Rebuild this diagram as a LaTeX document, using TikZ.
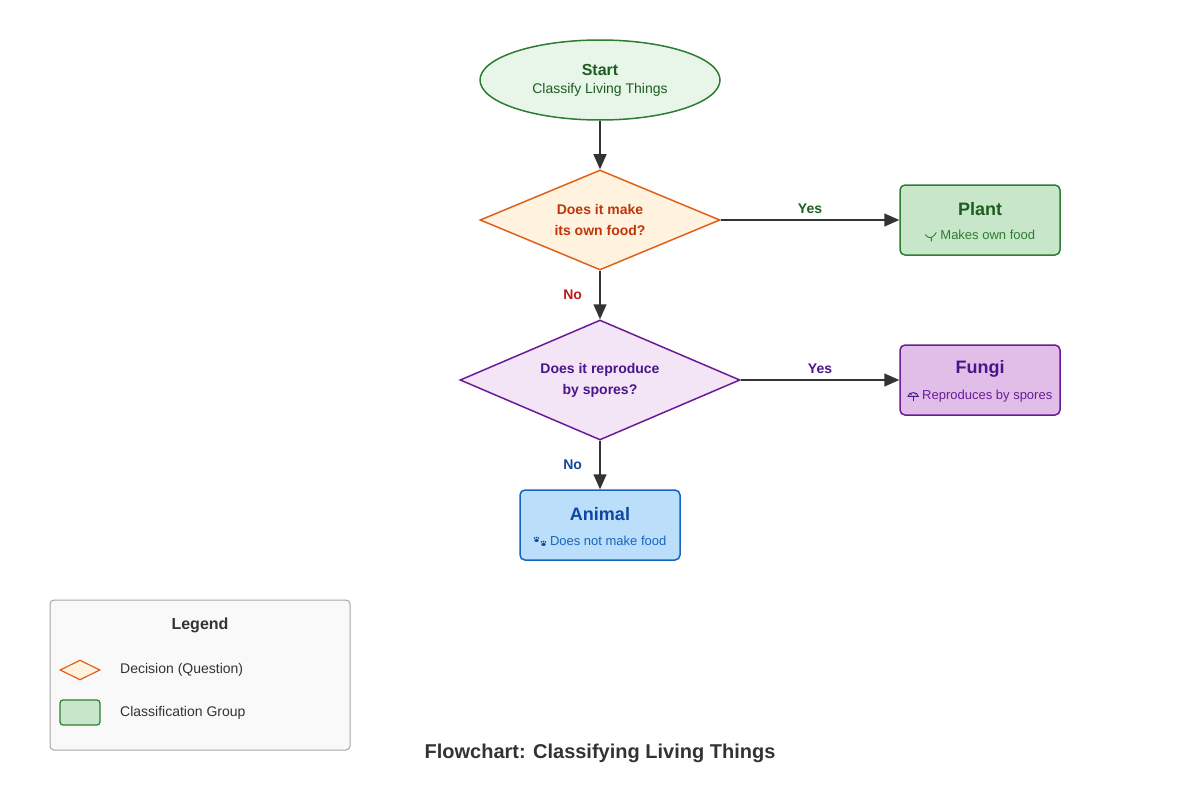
\documentclass[tikz,border=0pt]{standalone}
\usepackage{fontspec}
\setmainfont{Liberation Sans}
\usetikzlibrary{shapes.geometric,arrows.meta}
\definecolor{gS}{HTML}{2E7D32}\definecolor{gF}{HTML}{E8F5E9}\definecolor{gT}{HTML}{1B5E20}
\definecolor{gP}{HTML}{C8E6C9}
\definecolor{oS}{HTML}{E0601A}\definecolor{oF}{HTML}{FFF3E0}\definecolor{oT}{HTML}{BF360C}
\definecolor{pS}{HTML}{6A1B9A}\definecolor{pF}{HTML}{F3E5F5}\definecolor{pT}{HTML}{4A148C}\definecolor{pP}{HTML}{E1BEE7}
\definecolor{bS}{HTML}{1565C0}\definecolor{bF}{HTML}{BBDEFB}\definecolor{bT}{HTML}{0D47A1}
\definecolor{dk}{HTML}{333333}\definecolor{noR}{HTML}{B71C1C}
\newcommand{\icSprout}{\tikz[baseline=-3pt,x=1pt,y=1pt,line width=0.9pt,gS]{\draw (0,-5)--(0,-1) (-6,2) .. controls (-3,-2) and (-1,-1) .. (0,-1) .. controls (2,0) and (4,2) .. (5,4);}}
\newcommand{\icMush}{\tikz[baseline=-3pt,x=1pt,y=1pt,line width=0.9pt,pT]{\draw (-5,0) .. controls (-5,5) and (5,5) .. (5,0) -- cycle; \draw (0,0)--(0,-5); \fill (-2,2) circle (0.8) (2,2.5) circle (0.8);}}
\newcommand{\icPaw}{\tikz[baseline=-3pt,x=1pt,y=1pt,bT]{\fill (-4,2) ellipse (2.2 and 1.5) (-6,4.5) circle (0.9) (-4,5) circle (0.9) (-2,4.5) circle (0.9) (3,-2) ellipse (2.2 and 1.5) (1,0.5) circle (0.9) (3,1) circle (0.9) (5,0.5) circle (0.9);}}
\begin{document}
\begin{tikzpicture}[x=1pt,y=-1pt,
  dia/.style={diamond,draw,line width=1.5pt,inner sep=0pt,aspect=2.4,align=center,font=\bfseries\fontsize{14}{21}\selectfont},
  box/.style={rectangle,rounded corners=5pt,draw,line width=1.5pt,minimum width=160pt,minimum height=70pt,align=center},
  arr/.style={-{Triangle[length=15pt,width=13pt]},line width=1.5pt,draw=dk,fill=dk},
  lab/.style={font=\bfseries\fontsize{14}{16}\selectfont}]
\useasboundingbox (0,0) rectangle (1200,800);
\node[ellipse,draw=gS,fill=gF,line width=1.5pt,minimum width=240pt,minimum height=80pt] (start) at (600,80) {};
\node[font=\bfseries\fontsize{16}{18}\selectfont,text=gT] (startT) at (600,70) {Start};
\node[font=\fontsize{14}{16}\selectfont,text=gT] (startS) at (600,90) {Classify Living Things};
\node[dia,draw=oS,fill=oF,text=oT,minimum width=240pt,minimum height=100pt] (d1) at (600,220) {Does it make\\its own food?};
\node[dia,draw=pS,fill=pF,text=pT,minimum width=280pt,minimum height=120pt] (d2) at (600,380) {Does it reproduce\\by spores?};
\node[box,draw=gS,fill=gP] (plant) at (980,220) {};
\node[font=\bfseries\fontsize{18}{20}\selectfont,text=gT] (plantT) at (980,209) {Plant};
\node[font=\fontsize{13}{15}\selectfont,text=gS] (plantS) at (980,236) {\icSprout\ Makes own food};
\node[box,draw=pS,fill=pP] (fungi) at (980,380) {};
\node[font=\bfseries\fontsize{18}{20}\selectfont,text=pT] (fungiT) at (980,369) {Fungi};
\node[font=\fontsize{13}{15}\selectfont,text=pS] (fungiS) at (980,396) {\icMush\ Reproduces by spores};
\node[box,draw=bS,fill=bF] (animal) at (600,525) {};
\node[font=\bfseries\fontsize{18}{20}\selectfont,text=bT] (animalT) at (600,514) {Animal};
\node[font=\fontsize{13}{15}\selectfont,text=bS] (animalS) at (600,541) {\icPaw\ Does not make food};
\draw[arr] (start) -- (d1);
\draw[arr] (d1) -- node[lab,text=gT,above=2pt,pos=0.5]{Yes} (plant);
\draw[arr] (d1) -- node[lab,text=noR,left=14pt,pos=0.5]{No} (d2);
\draw[arr] (d2) -- node[lab,text=pT,above=2pt,pos=0.5]{Yes} (fungi);
\draw[arr] (d2) -- node[lab,text=bT,left=14pt,pos=0.5]{No} (animal);
\node[draw=gray!70,fill=gray!5,rounded corners=4pt,line width=1pt,minimum width=300pt,minimum height=150pt] (leg) at (200,675) {};
\node[font=\bfseries\fontsize{16}{18}\selectfont,text=dk] (legT) at (200,625) {Legend};
\node[diamond,draw=oS,fill=oF,line width=1.2pt,minimum width=40pt,minimum height=20pt,aspect=2,inner sep=0pt] (ld) at (80,670) {};
\node[draw=gS,fill=gP,rounded corners=3pt,line width=1.2pt,minimum width=40pt,minimum height=25pt] (lr) at (80,712.5) {};
\node[anchor=west,font=\fontsize{14}{16}\selectfont,text=dk,inner xsep=0pt] (ldT) at (120,670) {Decision (Question)};
\node[anchor=west,font=\fontsize{14}{16}\selectfont,text=dk,inner xsep=0pt] (lrT) at (120,713) {Classification Group};
\node[font=\bfseries\fontsize{20}{24}\selectfont,text=dk] (title) at (600,753) {Flowchart: Classifying Living Things};
\end{tikzpicture}
\end{document}
